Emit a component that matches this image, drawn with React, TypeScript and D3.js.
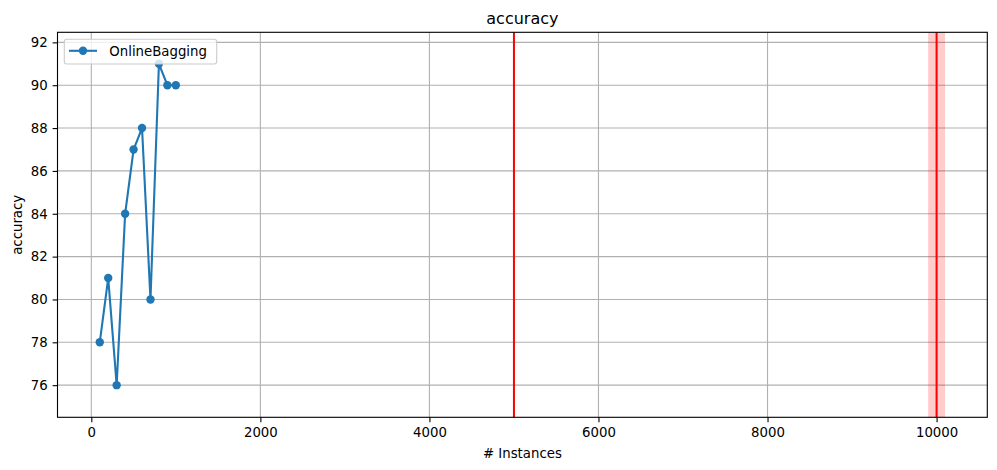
import React, { useRef, useEffect } from 'react';
import * as d3 from 'd3';

const instances = [100, 200, 300, 400, 500, 600, 700, 800, 900, 1000];
const accuracy = [78, 81, 76, 84, 87, 88, 80, 91, 90, 90];
const driftLines = [5000, 10000];
const driftSpan: [number, number] = [9900, 10100];
const xTicks = [0, 2000, 4000, 6000, 8000, 10000];
const yTicks = [76, 78, 80, 82, 84, 86, 88, 90, 92];
const seriesName = 'OnlineBagging';

const W = 997;
const H = 470;
const FONT = '"DejaVu Sans", sans-serif';

const App: React.FC = () => {
  const svgRef = useRef<SVGSVGElement | null>(null);

  useEffect(() => {
    document.body.style.margin = '0';
    if (!svgRef.current) return;
    const svg = d3.select(svgRef.current);
    svg.selectAll('*').remove();

    const margin = { top: 32.3, right: 9.7, bottom: 52.7, left: 57.5 };
    const x = d3.scaleLinear().domain([-400, 10600]).range([margin.left, W - margin.right]);
    const y = d3.scaleLinear().domain([74.5, 92.47]).range([H - margin.bottom, margin.top]);

    // grid
    const grid = svg.append('g').attr('stroke', '#b0b0b0').attr('stroke-width', 1.1);
    xTicks.forEach(t => {
      grid.append('line').attr('x1', x(t)).attr('x2', x(t))
        .attr('y1', margin.top).attr('y2', H - margin.bottom);
    });
    yTicks.forEach(t => {
      grid.append('line').attr('y1', y(t)).attr('y2', y(t))
        .attr('x1', margin.left).attr('x2', W - margin.right);
    });

    // drift markers
    svg.append('rect')
      .attr('x', x(driftSpan[0]))
      .attr('width', x(driftSpan[1]) - x(driftSpan[0]))
      .attr('y', margin.top)
      .attr('height', H - margin.bottom - margin.top)
      .attr('fill', 'red').attr('fill-opacity', 0.2);
    driftLines.forEach(d => {
      svg.append('line').attr('x1', x(d)).attr('x2', x(d))
        .attr('y1', margin.top).attr('y2', H - margin.bottom)
        .attr('stroke', 'red').attr('stroke-width', 2);
    });

    // series
    const pts = instances.map((v, i) => [v, accuracy[i]] as [number, number]);
    const line = d3.line<[number, number]>().x(d => x(d[0])).y(d => y(d[1]));
    svg.append('path').datum(pts).attr('d', line)
      .attr('fill', 'none').attr('stroke', '#1f77b4').attr('stroke-width', 2.1);
    svg.append('g').selectAll('circle').data(pts).join('circle')
      .attr('cx', d => x(d[0])).attr('cy', d => y(d[1])).attr('r', 4.2)
      .attr('fill', '#1f77b4');

    // axes
    const xAxis = svg.append('g')
      .attr('transform', `translate(0,${H - margin.bottom})`)
      .call(d3.axisBottom(x).tickValues(xTicks).tickFormat(d3.format('d')).tickSizeOuter(0).tickSize(4.9).tickPadding(4.9));
    const yAxis = svg.append('g')
      .attr('transform', `translate(${margin.left},0)`)
      .call(d3.axisLeft(y).tickValues(yTicks).tickFormat(d3.format('d')).tickSizeOuter(0).tickSize(4.9).tickPadding(4.9));
    [xAxis, yAxis].forEach(a => {
      a.select('.domain').remove();
      a.selectAll('line').attr('stroke', '#000').attr('stroke-width', 1.1);
      a.selectAll('text').attr('font-family', FONT).attr('font-size', 13.3).attr('fill', '#000');
    });

    // frame
    svg.append('rect')
      .attr('x', margin.left).attr('y', margin.top)
      .attr('width', W - margin.left - margin.right)
      .attr('height', H - margin.top - margin.bottom)
      .attr('fill', 'none').attr('stroke', '#000').attr('stroke-width', 1.1);

    // legend
    const lg = svg.append('g');
    lg.append('rect').attr('x', 64.3).attr('y', 39.3).attr('width', 152.4).attr('height', 24.7)
      .attr('rx', 2.5).attr('fill', 'white').attr('fill-opacity', 0.8)
      .attr('stroke', '#cccccc').attr('stroke-width', 1.1);
    lg.append('line').attr('x1', 69).attr('x2', 97).attr('y1', 50.8).attr('y2', 50.8)
      .attr('stroke', '#1f77b4').attr('stroke-width', 2.1);
    lg.append('circle').attr('cx', 83).attr('cy', 50.8).attr('r', 4.2).attr('fill', '#1f77b4');
    lg.append('text').attr('x', 109.3).attr('y', 55.5).text(seriesName)
      .attr('font-family', FONT).attr('font-size', 13.3);

    // titles
    const cx = (margin.left + W - margin.right) / 2;
    svg.append('text').attr('x', cx).attr('y', 24).attr('text-anchor', 'middle')
      .attr('font-family', FONT).attr('font-size', 16).text('accuracy');
    svg.append('text').attr('x', cx).attr('y', 458).attr('text-anchor', 'middle')
      .attr('font-family', FONT).attr('font-size', 13.3).text('# Instances');
    svg.append('text').attr('transform', `translate(21.5,${(margin.top + H - margin.bottom) / 2}) rotate(-90)`)
      .attr('text-anchor', 'middle')
      .attr('font-family', FONT).attr('font-size', 13.3).text('accuracy');
  }, []);

  return <svg ref={svgRef} width={W} height={H} style={{ display: 'block', background: '#fff' }} />;
};

export default App;
